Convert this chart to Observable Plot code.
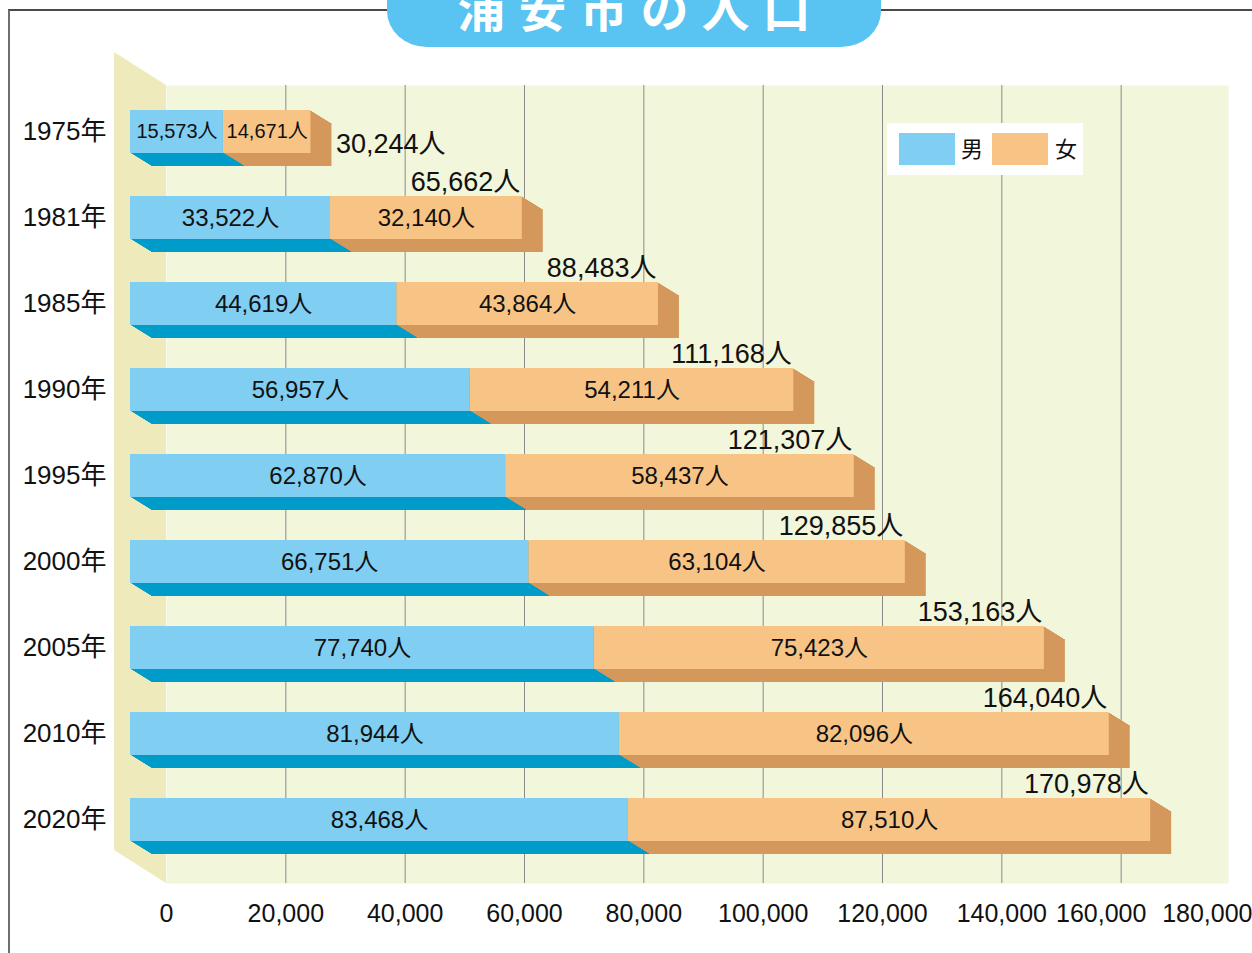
<!DOCTYPE html>
<html>
<head>
<meta charset="utf-8">
<script src="https://cdn.jsdelivr.net/npm/d3@7"></script>
<script src="https://cdn.jsdelivr.net/npm/@observablehq/plot@0.6"></script>
<style>
  html, body { margin: 0; padding: 0; background: #ffffff; }
  #page { position: relative; width: 1252px; height: 953px; overflow: hidden; background: #fff; }
  #frameLine { position: absolute; left: 8px; top: 9px; width: 1300px; height: 1000px;
    border-top: 2px solid #4a4a4a; border-left: 2px solid #6e6e6e; }
  #wall { position: absolute; left: 114px; top: 52px; width: 52px; height: 831px; background: #eeeabc;
    clip-path: polygon(0 0, 100% 33px, 100% 100%, 0 calc(100% - 33px)); }
  #chart { position: absolute; left: 0; top: 0; }
  #title { position: absolute; left: 387px; top: -60px; width: 494px; height: 107px; background: #59c3f1;
    border-radius: 0 0 40px 40px / 0 0 36px 36px; overflow: hidden; }
  #title span { position: absolute; left: 0; right: 0; top: 42px; text-align: center; color: #fff;
    font-family: "Noto Sans CJK JP", sans-serif; font-weight: 700; font-size: 48px; line-height: 48px;
    letter-spacing: 13px; padding-left: 13px; white-space: nowrap; }
  #legend { position: absolute; left: 887px; top: 123px; width: 196px; height: 52px; background: #fff; }
  #legend .sw { position: absolute; top: 10px; width: 56px; height: 32px; }
  #legend .lb { position: absolute; top: 8px; height: 32px; line-height: 32px; font-size: 22px;
    font-family: "Noto Sans CJK JP", sans-serif; color: #111; }
</style>
</head>
<body>
<div id="page">
  <div id="frameLine"></div>
  <div id="wall"></div>
  <div id="chart"></div>
  <div id="title"><span>浦安市の人口</span></div>
  <div id="legend"></div>
</div>
<script>
// ---- data ----
const years  = ["1975年", "1981年", "1985年", "1990年", "1995年", "2000年", "2005年", "2010年", "2020年"];
const male   = [15573, 33522, 44619, 56957, 62870, 66751, 77740, 81944, 83468];
const female = [14671, 32140, 43864, 54211, 58437, 63104, 75423, 82096, 87510];
const total  = [30244, 65662, 88483, 111168, 121307, 129855, 153163, 164040, 170978];
const xTicks = [0, 20000, 40000, 60000, 80000, 100000, 120000, 140000, 160000, 180000];
const seriesNames = ["男", "女"];

// ---- styles ----
const C = {
  maleFront: "#80cef2", maleBottom: "#009cc9",
  femaleFront: "#f8c486", femaleBottom: "#d5985c", femaleSide: "#e7a667",
  panel: "#f2f6db", grid: "#8a8a8a", text: "#111"
};
const SANS = '"Liberation Sans", "Noto Sans CJK JP", sans-serif';
const FRONT_DX = -36, DEPTH_X = 21, DEPTH_Y = 13, STEPS = 13;

const rows = years.map((year, i) => ({year, male: male[i], female: female[i], total: total[i]}));
const fmt = d3.format(",");
const isNarrow = d => d.total < 50000;

// extrusion (bottom + right faces), back to front
const extrusion = [];
for (let k = STEPS; k >= 1; k--) {
  const dx = FRONT_DX + DEPTH_X * k / STEPS, dy = DEPTH_Y * k / STEPS;
  extrusion.push(Plot.barX(rows, {x1: 0, x2: "male", y: "year", fill: C.maleBottom, dx, dy}));
  extrusion.push(Plot.barX(rows, {x1: "male", x2: "total", y: "year", fill: C.femaleBottom, dx, dy}));
  extrusion.push(Plot.ruleX(rows, {x: "total", y: "year", stroke: C.femaleSide, strokeWidth: 2.2, dx: dx - 1.1, dy}));
}

const gridTicks = xTicks.filter(v => v > 0 && v < 180000);
const axisCommon = {tickSize: 0, tickPadding: 21, tickFormat: d3.format(","), fontSize: 25, fill: C.text, label: null};

const chart = Plot.plot({
  width: 1252, height: 953,
  marginLeft: 166, marginRight: 24, marginTop: 85, marginBottom: 70,
  x: {domain: [0, 180000], range: [166, 1240], label: null},
  y: {domain: years, range: [65, 885], padding: 0.5, label: null},
  style: {background: "transparent", fontFamily: SANS, overflow: "visible"},
  marks: [
    Plot.frame({fill: C.panel, stroke: "none"}),
    Plot.gridX(gridTicks, {stroke: C.grid, strokeOpacity: 1, strokeWidth: 1}),
    ...extrusion,
    Plot.barX(rows, {x1: 0, x2: "male", y: "year", fill: C.maleFront, dx: FRONT_DX}),
    Plot.barX(rows, {x1: "male", x2: "total", y: "year", fill: C.femaleFront, dx: FRONT_DX}),
    // segment labels
    Plot.text(rows.filter(d => !isNarrow(d)), {x: d => d.male / 2, y: "year", text: d => fmt(d.male) + "人",
      dx: FRONT_DX, fontSize: 24, fill: C.text}),
    Plot.text(rows.filter(d => !isNarrow(d)), {x: d => d.male + d.female / 2, y: "year", text: d => fmt(d.female) + "人",
      dx: FRONT_DX, fontSize: 24, fill: C.text}),
    Plot.text(rows.filter(isNarrow), {x: d => d.male / 2, y: "year", text: d => fmt(d.male) + "人",
      dx: FRONT_DX, fontSize: 20, fill: C.text}),
    Plot.text(rows.filter(isNarrow), {x: d => d.male + d.female / 2, y: "year", text: d => fmt(d.female) + "人",
      dx: FRONT_DX, fontSize: 20, fill: C.text}),
    // totals
    Plot.text(rows.filter(d => !isNarrow(d)), {x: "total", y: "year", text: d => fmt(d.total) + "人",
      textAnchor: "end", dx: FRONT_DX - 2, dy: -36, fontSize: 27, fill: C.text}),
    Plot.text(rows.filter(isNarrow), {x: "total", y: "year", text: d => fmt(d.total) + "人",
      textAnchor: "start", dx: FRONT_DX + DEPTH_X + 4, dy: 12, fontSize: 27, fill: C.text}),
    // axes
    Plot.axisY({tickSize: 0, tickPadding: 60, fontSize: 26, fill: C.text, label: null}),
    Plot.axisX(xTicks.filter(v => v <= 140000), axisCommon),
    Plot.axisX(xTicks.filter(v => v === 160000), {...axisCommon, dx: -20}),
    Plot.axisX(xTicks.filter(v => v === 180000), {...axisCommon, textAnchor: "end", dx: 12})
  ]
});
document.getElementById("chart").appendChild(chart);

// legend
const legend = document.getElementById("legend");
const legendItems = [
  {name: seriesNames[0], color: C.maleFront, sw: 12, lb: 74},
  {name: seriesNames[1], color: C.femaleFront, sw: 105, lb: 168}
];
for (const it of legendItems) {
  const s = document.createElement("div");
  s.className = "sw"; s.style.left = it.sw + "px"; s.style.background = it.color;
  legend.appendChild(s);
  const l = document.createElement("div");
  l.className = "lb"; l.style.left = it.lb + "px"; l.textContent = it.name;
  legend.appendChild(l);
}
</script>
</body>
</html>
